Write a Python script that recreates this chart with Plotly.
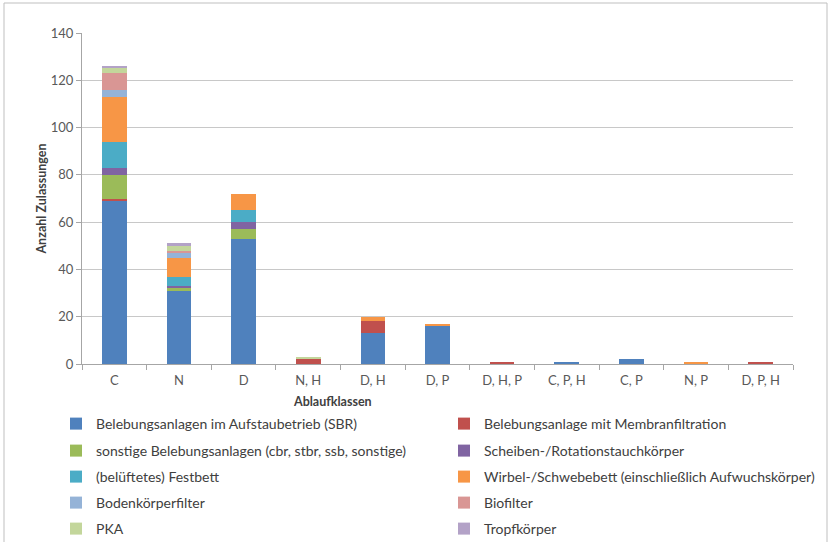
import plotly.graph_objects as go

categories = ["C", "N", "D", "N, H", "D, H", "D, P", "D, H, P", "C, P, H", "C, P", "N, P", "D, P, H"]

series_names = [
    "Belebungsanlagen im Aufstaubetrieb (SBR)",
    "Belebungsanlage mit Membranfiltration",
    "sonstige Belebungsanlagen (cbr, stbr, ssb, sonstige)",
    "Scheiben-/Rotationstauchkörper",
    "(belüftetes) Festbett",
    "Wirbel-/Schwebebett (einschließlich Aufwuchskörper)",
    "Bodenkörperfilter",
    "Biofilter",
    "PKA",
    "Tropfkörper",
]

sbr        = [69, 31, 53, 0, 13, 16, 0, 1, 2, 0, 0]
membran    = [1, 0, 0, 2, 5, 0, 1, 0, 0, 0, 1]
sonstige   = [10, 1, 4, 0, 0, 0, 0, 0, 0, 0, 0]
scheiben   = [3, 1, 3, 0, 0, 0, 0, 0, 0, 0, 0]
festbett   = [11, 4, 5, 0, 0, 0, 0, 0, 0, 0, 0]
wirbel     = [19, 8, 7, 0, 2, 1, 0, 0, 0, 1, 0]
boden      = [3, 2, 0, 0, 0, 0, 0, 0, 0, 0, 0]
biofilter  = [7, 1, 0, 0, 0, 0, 0, 0, 0, 0, 0]
pka        = [2, 2, 0, 1, 0, 0, 0, 0, 0, 0, 0]
tropf      = [1, 1, 0, 0, 0, 0, 0, 0, 0, 0, 0]

series_values = [sbr, membran, sonstige, scheiben, festbett, wirbel, boden, biofilter, pka, tropf]
colors = ["#4f81bd", "#c0504d", "#9bbb59", "#8064a2", "#4bacc6",
          "#f79646", "#95b3d7", "#d99694", "#c3d69b", "#b3a2c7"]

FONT = "Lato"
W, H = 834, 542
L, R, T, B = 82, 41, 33, 178
pw, ph = W - L - R, H - T - B

fig = go.Figure()
legend_ids = ["legend"] + [f"legend{i}" for i in range(2, 11)]
for i, (name, vals, col) in enumerate(zip(series_names, series_values, colors)):
    fig.add_trace(go.Bar(
        x=categories, y=vals, name=name,
        marker=dict(color=col, line=dict(width=0)),
        width=0.38,
        legend=legend_ids[i],
    ))

# legends: 5 rows, 2 columns (one legend per entry)
row_y_px = [424, 451, 477, 503, 529]
col_x_px = [56, 444]
legend_layout = {}
for i, lid in enumerate(legend_ids):
    r, c = divmod(i, 2)
    legend_layout[lid] = dict(
        orientation="h",
        x=(col_x_px[c] - L) / pw, xanchor="left",
        y=(H - B - row_y_px[r]) / ph, yanchor="middle",
        font=dict(family=FONT, size=14, color="#404040"),
        bgcolor="rgba(0,0,0,0)", itemclick=False, itemdoubleclick=False,
    )

fig.update_layout(
    barmode="stack",
    width=W, height=H,
    margin=dict(l=L, r=R, t=T, b=B, autoexpand=False),
    paper_bgcolor="white", plot_bgcolor="white",
    font=dict(family=FONT, size=13, color="#595959"),
    xaxis=dict(
        type="category", tickson="boundaries", ticks="outside", ticklen=5,
        tickcolor="#a6a6a6", showline=True, linecolor="#a6a6a6", linewidth=1,
        showgrid=False, tickfont=dict(family=FONT, size=13, color="#595959"),
        ticklabelstandoff=4,
    ),
    yaxis=dict(
        range=[0, 140], dtick=20, ticks="outside", ticklen=5, tickcolor="#a6a6a6",
        showline=True, linecolor="#a6a6a6", linewidth=1,
        showgrid=True, gridcolor="#c8c8c8", gridwidth=1, zeroline=False,
        tickfont=dict(family=FONT, size=13, color="#595959"),
        title=dict(text="<b>Anzahl Zulassungen</b>", font=dict(family=FONT, size=12.5, color="#404040"), standoff=1),
    ),
    showlegend=True,
    **legend_layout,
)

fig.add_annotation(
    text="<b>Ablaufklassen</b>", xref="paper", yref="paper",
    x=(332 - L) / pw, y=(H - B - 401) / ph, xanchor="center", yanchor="middle",
    showarrow=False, font=dict(family=FONT, size=12.5, color="#404040"),
)

fig.add_shape(
    type="rect", xref="paper", yref="paper",
    x0=(4 - L) / pw, x1=(827 - L) / pw,
    y0=(H - B - 560) / ph, y1=(H - B - 3) / ph,
    line=dict(color="#bfbfbf", width=1), fillcolor="rgba(0,0,0,0)", layer="below",
)

fig.write_html(
    "out.html",
    config={"displayModeBar": False},
    post_script="document.body.style.margin='0';document.body.style.overflow='hidden';",
)
